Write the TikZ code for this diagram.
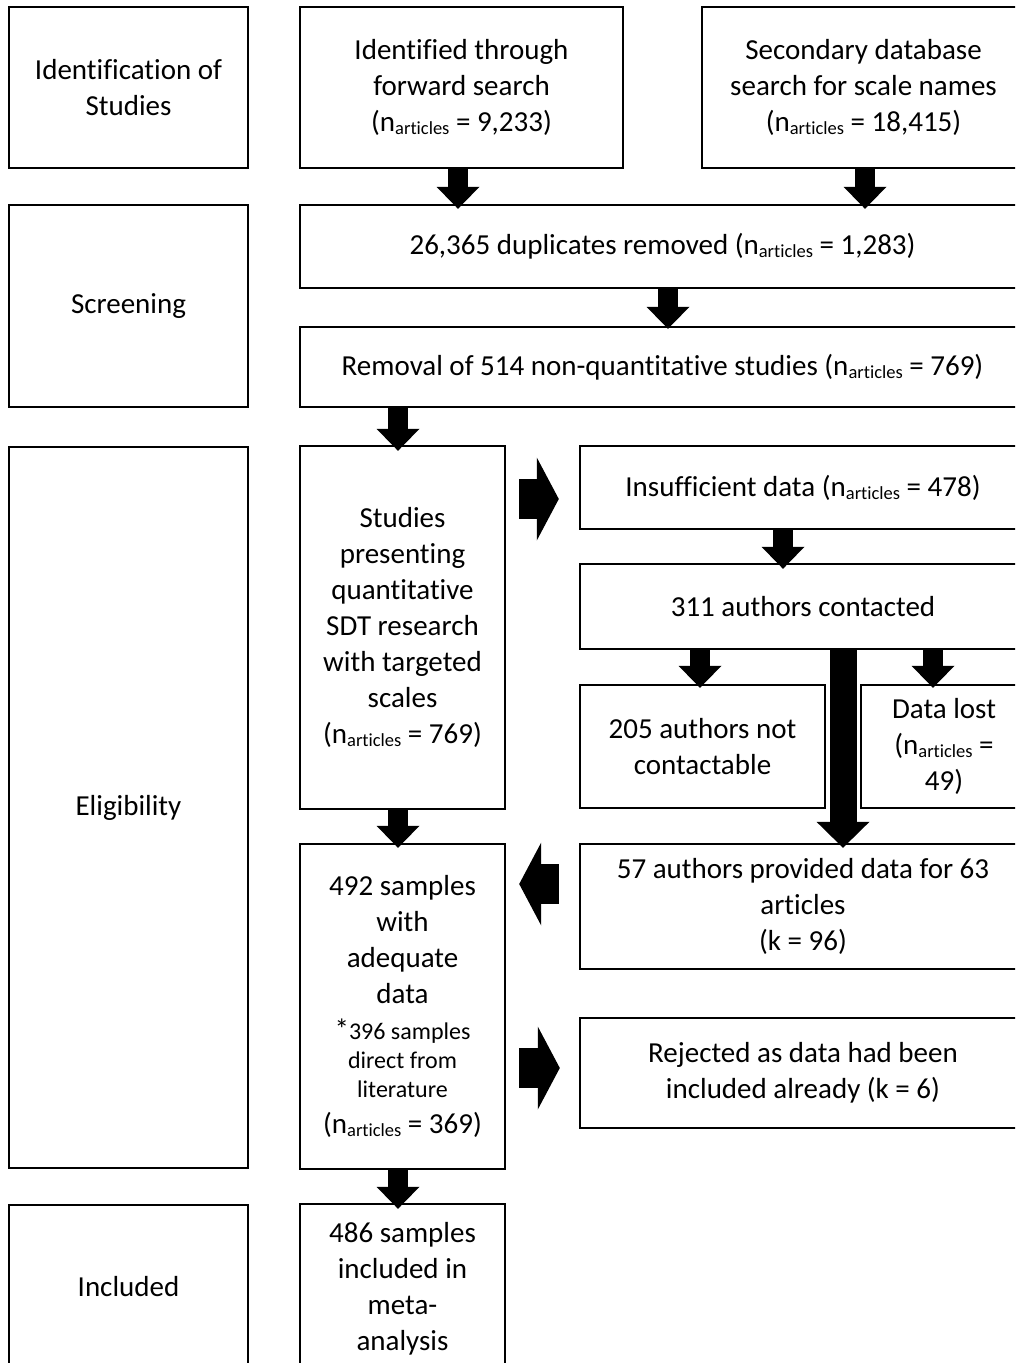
\documentclass[tikz,border=0pt]{standalone}
\usepackage{fontspec}
\setmainfont{Carlito}[Ligatures=NoCommon]
\usetikzlibrary{arrows.meta,calc}
\newcommand\art{n\raisebox{-3pt}{\fontsize{18.5}{18.5}\selectfont articles}}
\newcommand\smalltxt{\fontsize{24}{29}\selectfont}
\begin{document}
\begin{tikzpicture}[x=1pt,y=-1pt,
  box/.style={draw=black, line width=2.4pt, inner sep=0pt, align=center,
    font=\fontsize{29}{36}\selectfont, rectangle},
  sz/.style n args={2}{minimum width=#1pt, minimum height=#2pt},
  blk/.style={line width=20pt, -{Triangle[length=22pt 0 0,width=43pt 0 0,line width=0pt 0 0]}},
  side/.style={line width=40pt, -{Triangle[length=22pt 0 0,width=83pt 0 0,line width=0pt 0 0]}},
  longarr/.style={line width=27pt, -{Triangle[length=26pt 0 0,width=53pt 0 0,line width=0pt 0 0]}}]
\clip (0,0) rectangle (1015,1363);
\fill[white] (0,0) rectangle (1015,1363);
% left column
\node[box, sz={239}{161}] (ident) at (128.5,87.5) {Identification of\\Studies};
\node[box, sz={239}{202}] (screen) at (128.5,306) {Screening};
\node[box, sz={239}{721}] (elig) at (128.5,807.5) {Eligibility};
\node[box, sz={239}{164}] (incl) at (128.5,1287) {Included};
% top row
\node[box, sz={323}{161}] (fwd) at (461.5,87.5) {Identified through\\forward search\\(\art{} = 9,233)};
\node[box, sz={323}{161}] (sec) at (863.5,87.5) {Secondary database\\search for scale names\\(\art{} = 18,415)};
\node[box, sz={725}{83}] (dup) at (662.5,246.5) {26,365 duplicates removed (\art{} = 1,283)};
\node[box, sz={725}{80}] (rem) at (662.5,367) {Removal of 514 non-quantitative studies (\art{} = 769)};
% eligibility
\node[box, sz={205}{363}] (studies) at (402.5,627.5) {Studies\\presenting\\quantitative\\SDT research\\with targeted\\scales\\(\art{} = 769)};
\node[box, sz={446}{83}] (insuf) at (803,487.5) {Insufficient data (\art{} = 478)};
\node[box, sz={446}{85}] (contact) at (803,606.5) {311 authors contacted};
\node[box, sz={245}{123}] (notc) at (702.5,746.5) {205 authors not\\contactable};
\node[box, sz={166}{123}] (lost) at (944,746.5) {Data lost\\(\art{} =\\49)};
\node[box, sz={205}{325}] (s492) at (402.5,1006.5) {492 samples\\with\\adequate\\data\\*{\smalltxt 396 samples}\\[-7pt]{\smalltxt direct from}\\[-7pt]{\smalltxt literature}\\(\art{} = 369)};
\node[box, sz={446}{125}] (prov) at (803,906.5) {57 authors provided data for 63\\articles\\(k = 96)};
\node[box, sz={446}{110}] (rej) at (803,1073) {Rejected as data had been\\included already (k = 6)};
\node[box, sz={205}{170}] (s486) at (402.5,1289) {486 samples\\included in\\meta-\\analysis};
% arrows
\draw[blk] ($(fwd.south)+(-3.5,0)$) -- ($(fwd.south|-dup.north)+(-3.5,5)$);
\draw[blk] ($(sec.south)+(1.5,0)$) -- ($(sec.south|-dup.north)+(1.5,5)$);
\draw[blk] ($(dup.south)+(5.5,0)$) -- ($(dup.south|-rem.north)+(5.5,3)$);
\draw[blk] ($(studies.north|-rem.south)+(-4.5,0)$) -- ($(studies.north)+(-4.5,6)$);
\draw[blk] ($(contact.north|-insuf.south)+(-20,0)$) -- ($(contact.north)+(-20,6)$);
\draw[blk] ($(notc.north|-contact.south)+(-2.5,0)$) -- ($(notc.north)+(-2.5,4)$);
\draw[blk] ($(lost.north|-contact.south)+(-11,0)$) -- ($(lost.north)+(-11,4)$);
\draw[longarr] ($(prov.north|-contact.south)+(40,0)$) -- ($(prov.north)+(40,5)$);
\draw[blk] ($(studies.south)+(-4.5,0)$) -- ($(s492.north)+(-4.5,5)$);
\draw[blk] ($(s492.south)+(-4.5,0)$) -- ($(s486.north)+(-4.5,6)$);
\draw[side] ($(studies.east|-insuf.west)+(13,11.5)$) -- ($(insuf.west)+(-20,11.5)$);
\draw[side] ($(prov.west)+(-20,-22.5)$) -- ($(s492.east|-prov.west)+(13,-22.5)$);
\draw[side] ($(s492.east|-rej.west)+(13,-5)$) -- ($(rej.west)+(-19,-5)$);
\end{tikzpicture}
\end{document}
